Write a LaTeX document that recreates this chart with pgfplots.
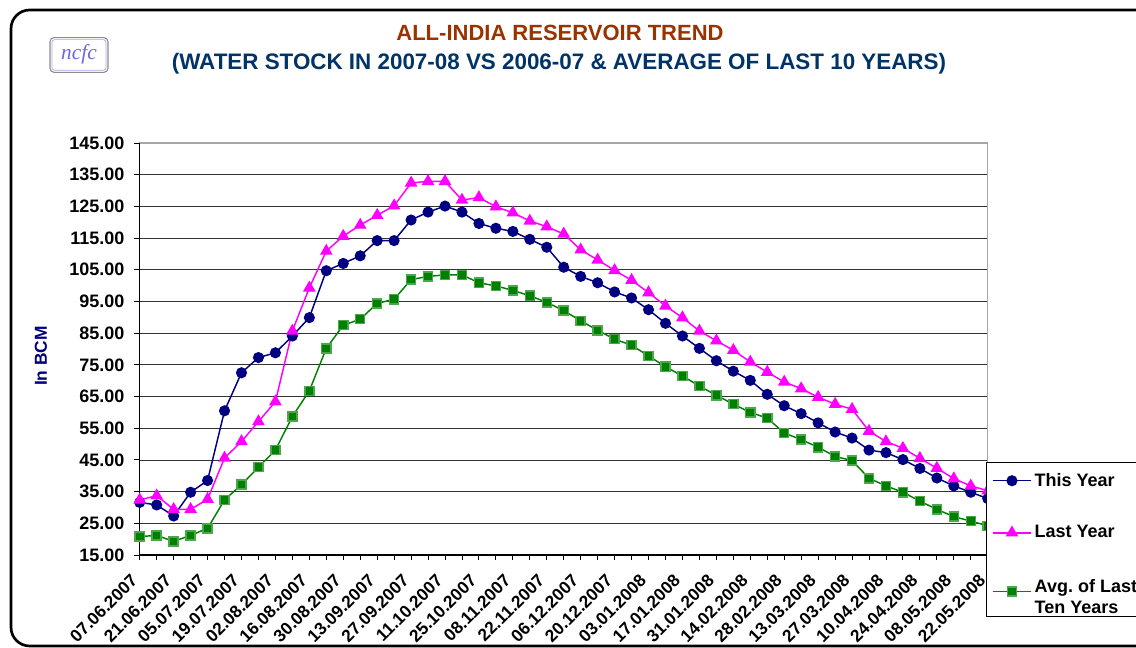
\documentclass[border=0pt]{standalone}
\usepackage{pgfplots}
\pgfplotsset{compat=1.18}
\usepackage{pgfplotstable}
\usepackage{fontspec}
\setmainfont{Liberation Sans}
\newfontfamily\serifit{Liberation Serif}
\definecolor{tyblue}{HTML}{000080}
\definecolor{lymag}{HTML}{FF00FF}
\definecolor{avgreen}{HTML}{008000}
\definecolor{titlebrown}{HTML}{993300}
\definecolor{subblue}{HTML}{003366}
\definecolor{logoblue}{HTML}{6A6ADA}

\pgfplotstableread{
i v
0 31.6
1 30.8
2 27.3
3 34.8
4 38.5
5 60.5
6 72.5
7 77.3
8 78.8
9 84.1
10 89.9
11 104.7
12 107.0
13 109.4
14 114.2
15 114.2
16 120.7
17 123.2
18 125.1
19 123.2
20 119.6
21 118.1
22 117.1
23 114.6
24 112.1
25 105.8
26 102.9
27 100.9
28 98.0
29 96.1
30 92.4
31 88.1
32 84.1
33 80.2
34 76.3
35 73.0
36 70.1
37 65.7
38 62.1
39 59.6
40 56.7
41 53.8
42 51.9
43 48.1
44 47.3
45 45.1
46 42.3
47 39.3
48 36.8
49 34.8
50 32.8
}\thisyear

\pgfplotstableread{
i v
0 32.4
1 33.7
2 29.4
3 29.4
4 32.6
5 45.6
6 50.8
7 57.1
8 63.4
9 85.7
10 99.3
11 110.9
12 115.6
13 119.1
14 122.2
15 125.2
16 132.4
17 132.9
18 132.9
19 127.0
20 127.8
21 124.9
22 123.0
23 120.4
24 118.6
25 116.3
26 111.3
27 108.1
28 104.8
29 101.7
30 97.8
31 93.6
32 89.9
33 85.7
34 82.6
35 79.6
36 75.9
37 72.7
38 69.6
39 67.5
40 64.8
41 62.6
42 61.0
43 54.1
44 50.8
45 48.7
46 45.5
47 42.4
48 39.1
49 36.8
50 35.3
}\lastyear

\pgfplotstableread{
i v
0 20.8
1 21.2
2 19.3
3 21.2
4 23.4
5 32.4
6 37.2
7 42.7
8 48.1
9 58.7
10 66.8
11 80.2
12 87.5
13 89.4
14 94.4
15 95.7
16 101.9
17 102.9
18 103.4
19 103.4
20 100.9
21 99.9
22 98.5
23 96.8
24 94.7
25 92.1
26 88.9
27 85.9
28 83.1
29 81.2
30 77.8
31 74.4
32 71.5
33 68.3
34 65.4
35 62.6
36 60.0
37 58.2
38 53.5
39 51.4
40 49.0
41 46.1
42 44.8
43 39.2
44 36.8
45 34.8
46 32.0
47 29.4
48 27.1
49 25.7
50 24.2
}\avgten

\begin{document}
\frenchspacing
\begin{tikzpicture}
\path[use as bounding box] (0,0) rectangle (852pt,-486pt);
\clip (0,0) rectangle (852pt,-486pt);
\begin{axis}[
  scale only axis, width=636pt, height=309pt,
  at={(104.8pt,-416.25pt)}, anchor=south west,
  xmin=0, xmax=50, ymin=15, ymax=145,
  clip=false,
  axis line style={draw=black!35, line width=1pt},
  tick pos=left, tick align=outside,
  major tick length=4pt, minor tick length=4pt,
  tick style={black, line width=0.7pt},
  xtick={0,2,...,50},
  minor xtick={1,3,...,49},
  xticklabels={07.06.2007,21.06.2007,05.07.2007,19.07.2007,02.08.2007,16.08.2007,30.08.2007,13.09.2007,27.09.2007,11.10.2007,25.10.2007,08.11.2007,22.11.2007,06.12.2007,20.12.2007,03.01.2008,17.01.2008,31.01.2008,14.02.2008,28.02.2008,13.03.2008,27.03.2008,10.04.2008,24.04.2008,08.05.2008,22.05.2008},
  xticklabel style={rotate=45, anchor=east, font=\fontsize{13}{15}\selectfont\bfseries, inner sep=1pt, xshift=-11pt, yshift=-6.4pt},
  ytick={15,25,...,145},
  yticklabel style={font=\fontsize{13.5}{16}\selectfont\bfseries, /pgf/number format/fixed, /pgf/number format/zerofill, /pgf/number format/precision=2, /pgf/number format/assume math mode=true, xshift=-4pt},
  ymajorgrids,
  grid style={black!80, line width=0.6pt},
  legend style={at={(axis description cs:0.998,0.2257)}, anchor=north west, draw=black, line width=0.8pt, fill=white, font=\fontsize{13.5}{16}\selectfont\bfseries, row sep=24pt, inner ysep=6pt, inner xsep=4pt, cells={anchor=west}},
  legend image code/.code={\draw[mark repeat=2, mark phase=2, #1] plot coordinates {(0pt,0pt) (14.5pt,0pt) (29pt,0pt)};},
]
\draw[black, line width=1.1pt] (rel axis cs:0,1) -- (rel axis cs:0,0) -- (rel axis cs:1,0);
\addplot[tyblue, line width=1.1pt, mark=*, mark size=3.6pt, mark options={fill=tyblue, draw=tyblue}] table[x=i, y=v] {\thisyear};
\addlegendentry{This Year}
\addplot[lymag, line width=1.1pt, mark=triangle*, mark size=4.4pt, mark options={fill=lymag, draw=lymag}] table[x=i, y=v] {\lastyear};
\addlegendentry{Last Year}
\addplot[avgreen, line width=1.1pt, mark=square*, mark size=3.4pt, mark options={fill=avgreen, draw=avgreen!70!white}] table[x=i, y=v] {\avgten};
\addlegendentry{\begin{tabular}{@{}l@{}}Avg.\ of Last\\Ten Years\end{tabular}}
\end{axis}
\begin{scope}[x=0.75pt, y=-0.75pt]
\draw[line width=2pt, rounded corners=14pt] (11,10) rectangle (1190,646);
\node[font=\fontsize{16.5}{18}\selectfont\bfseries, text=titlebrown] at (560,33) {ALL-INDIA RESERVOIR TREND};
\node[font=\fontsize{16.8}{18}\selectfont\bfseries, text=subblue] at (559,64) {(WATER STOCK IN 2007-08 VS 2006-07 \& AVERAGE OF LAST 10 YEARS)};
\node[draw=black!45, line width=0.8pt, rounded corners=3pt, minimum width=43.5pt, minimum height=26pt, fill=white] at (79,55) {};
\node[draw=logoblue!60, line width=0.5pt, rounded corners=2pt, minimum width=40.5pt, minimum height=23pt] at (79,55) {};
\node[font=\serifit\itshape\fontsize{16}{17}\selectfont, text=logoblue] at (79,54) {ncfc};
\node[rotate=90, font=\fontsize{13}{15}\selectfont\bfseries, text=tyblue] at (41,356) {In BCM};
\end{scope}
\end{tikzpicture}
\end{document}
